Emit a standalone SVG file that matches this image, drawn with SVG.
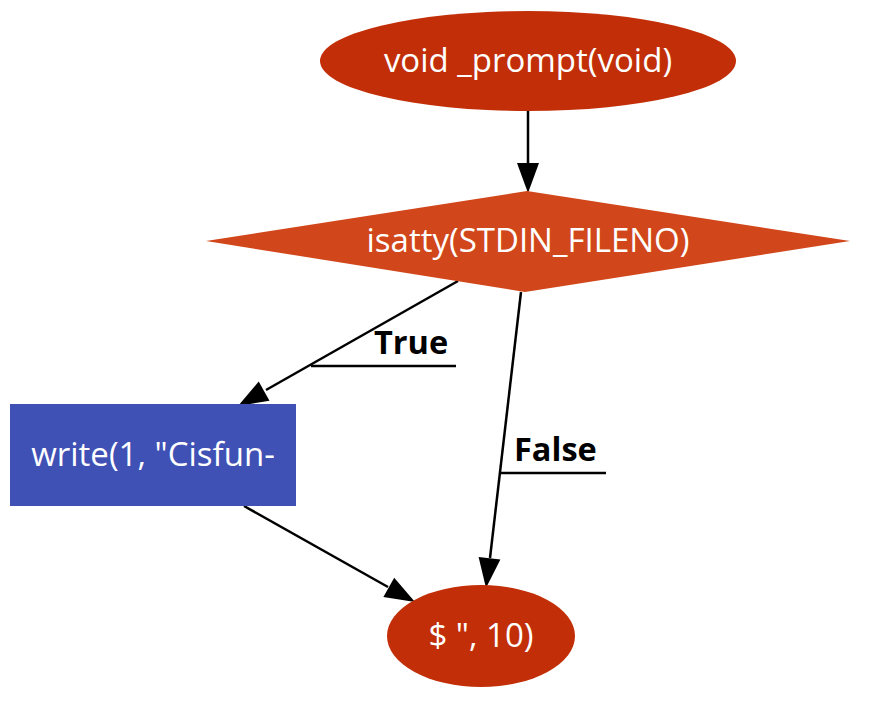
<svg xmlns="http://www.w3.org/2000/svg" width="875" height="711" viewBox="0 0 875 711">
<style>
.lbl{font-family:"Open Sans","Noto Sans",sans-serif;font-size:33px;fill:#ffffff;text-anchor:middle;dominant-baseline:central}
.el{font-family:"Open Sans","Noto Sans",sans-serif;font-size:32.5px;font-weight:bold;fill:#000000}
.edge{stroke:#000;stroke-width:2.5;fill:none}
.head{fill:#000}
</style>
<g id="connectors">
<line class="edge" x1="528" y1="111" x2="528" y2="166"/>
<polygon class="head" points="517,163 539,163 528,193"/>
<line class="edge" x1="458" y1="281" x2="266" y2="390"/>
<polygon class="head" points="269.5,400.8 258.7,381.6 238,406"/>
<line class="edge" x1="311" y1="366" x2="456" y2="366"/>
<text class="el" x="374" y="354">True</text>
<line class="edge" x1="521" y1="292" x2="490" y2="558"/>
<polygon class="head" points="500.4,559.5 478.6,556.9 486,588"/>
<line class="edge" x1="499" y1="473" x2="606" y2="473"/>
<text class="el" x="514" y="461">False</text>
<line class="edge" x1="244" y1="506" x2="388" y2="587"/>
<polygon class="head" points="383.4,596.9 394.2,577.7 415,602"/>
</g>
<g id="node-prompt">
<ellipse cx="528" cy="61" rx="208" ry="50" fill="#C22E07"/>
<text class="lbl" x="528" y="59">void _prompt(void)</text>
</g>
<g id="node-isatty">
<polygon points="527,191 850,241 525,292 206,241" fill="#D1461A"/>
<text class="lbl" x="528" y="239">isatty(STDIN_FILENO)</text>
</g>
<g id="node-write">
<rect x="10" y="404" width="286" height="102" fill="#3F51B5"/>
<text class="lbl" x="153" y="453">write(1, "Cisfun-</text>
</g>
<g id="node-end">
<ellipse cx="481" cy="636" rx="94" ry="51" fill="#C22E07"/>
<text class="lbl" x="481" y="634">$ ", 10)</text>
</g>
</svg>
